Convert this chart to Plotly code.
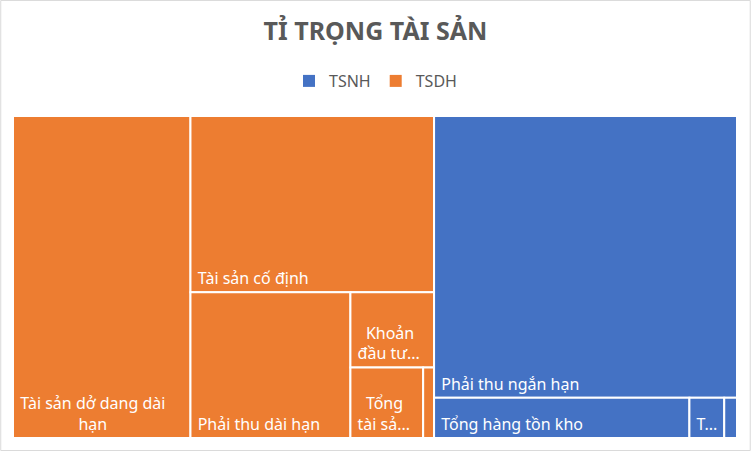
import plotly.graph_objects as go

# Data (percent of total assets)
groups = ["TSNH", "TSDH"]
group_colors = {"TSNH": "#4472C4", "TSDH": "#ED7D31"}

items = [
    "Tài sản dở dang dài hạn",
    "Tài sản cố định",
    "Phải thu dài hạn",
    "Khoản đầu tư tài chính dài hạn",
    "Tổng tài sản dài hạn khác",
    "Bất động sản đầu tư",
    "Phải thu ngắn hạn",
    "Tổng hàng tồn kho",
    "Tiền và các khoản tương đương tiền",
    "Tài sản ngắn hạn khác",
]
item_groups = ["TSDH", "TSDH", "TSDH", "TSDH", "TSDH", "TSDH",
               "TSNH", "TSNH", "TSNH", "TSNH"]
item_values = [24.5, 18.4, 10.0, 2.7, 2.2, 0.33, 36.6, 4.4, 0.6, 0.22]
NB = "\u00a0"
item_shown = [
    NB + "Tài sản dở dang dài<br>" + NB * 15 + "hạn",
    NB + "Tài sản cố định",
    NB + "Phải thu dài hạn",
    NB * 3 + "Khoản<br>" + NB + "đầu tư...",
    NB * 3 + "Tổng<br>" + NB + "tài sả...",
    "",
    NB + "Phải thu ngắn hạn",
    NB + "Tổng hàng tồn kho",
    NB + "T...",
    "",
]

labels = ["TSDH", "TSNH"] + items
ids = labels
parents = ["", ""] + item_groups
values = [0, 0] + item_values
texts = ["", ""] + item_shown
colors = [group_colors["TSDH"], group_colors["TSNH"]] + [group_colors[g] for g in item_groups]

fig = go.Figure()
fig.add_trace(go.Treemap(
    ids=ids,
    labels=labels,
    parents=parents,
    values=values,
    text=texts,
    texttemplate="%{text}",
    textposition="bottom left",
    textfont=dict(family="Noto Sans", size=16, color="white"),
    marker=dict(colors=colors, line=dict(color="white", width=2),
                pad=dict(t=0, l=0, r=0, b=0)),
    tiling=dict(packing="squarify", squarifyratio=1, pad=0),
    pathbar=dict(visible=False),
    sort=True,
    domain=dict(x=[13 / 751, 737 / 751], y=[1 - 438 / 451, 1 - 116 / 451]),
    hoverinfo="label+value",
))

for g in groups:
    fig.add_trace(go.Scatter(
        x=[None], y=[None], mode="markers", name=g,
        marker=dict(symbol="square", size=11, color=group_colors[g]),
        showlegend=True,
    ))

fig.update_layout(
    width=751, height=451,
    margin=dict(l=0, r=0, t=0, b=0),
    paper_bgcolor="white", plot_bgcolor="white",
    title=dict(text="<b>TỈ TRỌNG TÀI SẢN</b>", x=0.5, xanchor="center",
               y=1 - 31 / 451, yanchor="middle",
               font=dict(family="Noto Sans", size=25, color="#595959")),
    legend=dict(orientation="h", x=0.5, xanchor="center", y=1 - 81 / 451,
                yanchor="middle", font=dict(family="Noto Sans", size=16, color="#595959"),
                itemsizing="constant", bgcolor="rgba(0,0,0,0)"),
    xaxis=dict(visible=False), yaxis=dict(visible=False),
    shapes=[dict(type="rect", xref="paper", yref="paper", x0=0.001, y0=0.001,
                 x1=0.999, y1=0.999, line=dict(color="#D9D9D9", width=1))],
)

fig.write_html("out.html", config={"displayModeBar": False},
               post_script="document.body.style.margin='0px';")
